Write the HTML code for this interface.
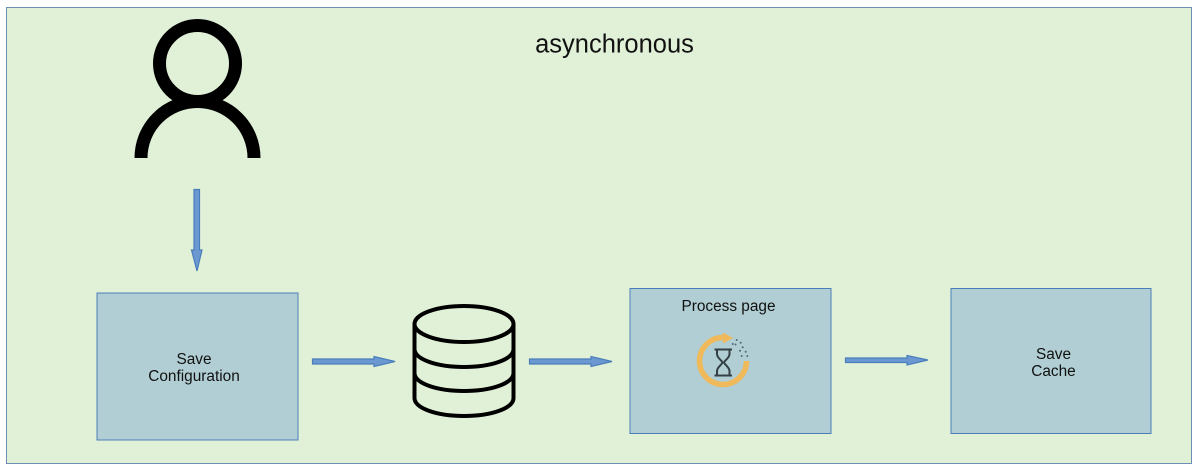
<!DOCTYPE html>
<html>
<head>
<meta charset="utf-8">
<style>
html,body{margin:0;padding:0;background:#fff;width:1200px;height:471px;overflow:hidden}
svg{display:block}
text{font-family:"Liberation Sans",sans-serif;fill:#111}
</style>
</head>
<body>
<svg width="1200" height="471" viewBox="0 0 1200 471" xmlns="http://www.w3.org/2000/svg">
<rect x="6.5" y="7.5" width="1185" height="456" fill="#e1f1d7" stroke="#6d8fb5" stroke-width="1"/>
<text x="614.5" y="52.500" font-size="25.500" text-anchor="middle">asynchronous</text>

<!-- person -->
<circle cx="197.500" cy="63.500" r="38" fill="none" stroke="#000" stroke-width="13"/>
<path d="M141 158 A56.500 56.500 0 0 1 254 158" fill="none" stroke="#000" stroke-width="13"/>

<!-- boxes -->
<rect x="97" y="293" width="201" height="147" fill="#b0ced3" stroke="#4a7ebb" stroke-width="1"/>
<rect x="630" y="288.500" width="201" height="145" fill="#b0ced3" stroke="#4a7ebb" stroke-width="1"/>
<rect x="951" y="288.500" width="200" height="145" fill="#b0ced3" stroke="#4a7ebb" stroke-width="1"/>

<text x="194" y="364" font-size="15.400" text-anchor="middle">Save</text>
<text x="194" y="381" font-size="15.400" text-anchor="middle">Configuration</text>
<text x="728.500" y="311" font-size="15.400" text-anchor="middle">Process page</text>
<text x="1053.500" y="359" font-size="15.400" text-anchor="middle">Save</text>
<text x="1053.500" y="376" font-size="15.400" text-anchor="middle">Cache</text>

<!-- arrows -->
<g fill="#6b98d0" stroke="#4a7ebb" stroke-width="1.200">
<path d="M194 189.500 H199.500 V250 H202 L197 271 L191.500 250 H194 Z"/>
<path d="M312.500 359 H374 V356.500 L395 361.500 L374 366.500 V364 H312.500 Z"/>
<path d="M529.500 359 H591 V356.500 L612 361.500 L591 366.500 V364 H529.500 Z"/>
<path d="M845.500 358 H907 V355.500 L928 360 L907 365 V362.500 H845.500 Z"/>
</g>

<!-- database -->
<g fill="none" stroke="#000" stroke-width="4">
<ellipse cx="464" cy="324" rx="49.500" ry="18"/>
<path d="M414.500 324 V398 C414.500 408 436 416 464 416 C492 416 513.500 408 513.500 398 V324"/>
<path d="M414.500 349 C414.500 359 436 367 464 367 C492 367 513.500 359 513.500 349"/>
<path d="M414.500 373 C414.500 383 436 391 464 391 C492 391 513.500 383 513.500 373"/>
</g>

<!-- hourglass icon -->
<path d="M746.500 361 A23.500 23.500 0 1 1 723 337.500" fill="none" stroke="#f0b95a" stroke-width="5.500"/>
<path d="M723 332.500 L733 338 L723 343.500 Z" fill="#f0b95a"/>
<g fill="none" stroke="#333f45" stroke-width="2">
<path d="M714.500 349.500 H732 M714.500 375.500 H732"/>
<path d="M717 350 V354 C717 358 721.500 360 722.500 362.500 C721.500 365 717 367.500 717 371 V375 M729.500 350 V354 C729.500 358 725 360 724 362.500 C725 365 729.500 367.500 729.500 371 V375"/>
</g>
<g fill="#4f6a73">
<circle cx="736.700" cy="340" r="1"/><circle cx="740.700" cy="342.700" r="1"/><circle cx="732.700" cy="344" r="1"/>
<circle cx="735.500" cy="344.500" r="1"/><circle cx="742.700" cy="347.300" r="1"/><circle cx="740" cy="350.700" r="1"/>
<circle cx="745.700" cy="351.700" r="1"/><circle cx="741.700" cy="356" r="1"/><circle cx="747.300" cy="356" r="1"/>
</g>
</svg>
</body>
</html>
